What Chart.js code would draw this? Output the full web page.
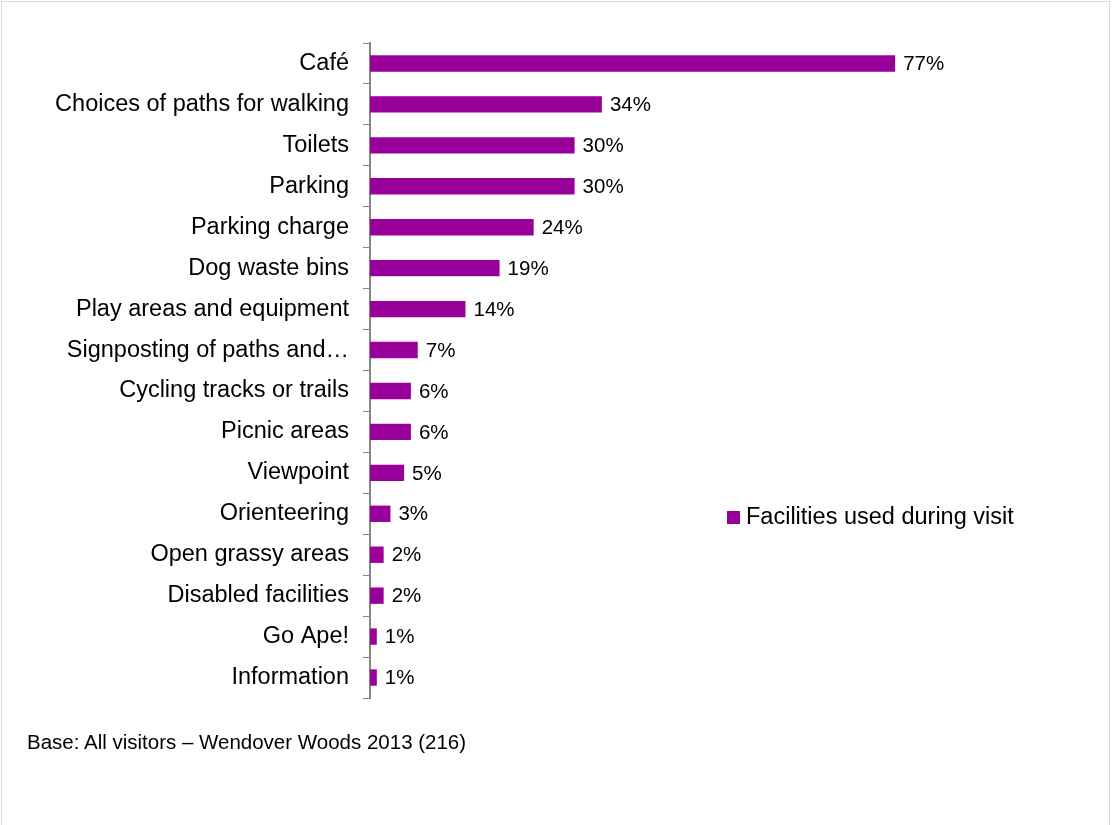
<!DOCTYPE html>
<html lang="en">
<head>
    <meta charset="UTF-8">
    <title>Facilities used during visit</title>
    <script src="https://cdn.jsdelivr.net/npm/chart.js"></script>
</head>
<body style="margin:0;background:#fff;font-family:'Liberation Sans',Arial,sans-serif;">
    <div style="position:relative;width:1113px;height:825px;overflow:hidden;">
        <div style="position:absolute;left:1px;top:1px;width:1107px;height:840px;border:1px solid #d9d9d9;"></div>
        <canvas id="facilitiesChart" width="1113" height="825" style="position:absolute;left:0;top:0;"></canvas>
        <div style="position:absolute;left:727px;top:511px;width:13px;height:13px;background:#990099;"></div>
        <div style="position:absolute;left:746px;top:505px;font-size:23.5px;line-height:1;color:#000;white-space:nowrap;">Facilities used during visit</div>
        <div style="position:absolute;left:27px;top:732px;font-size:20.5px;line-height:1;color:#000;white-space:nowrap;">Base: All visitors – Wendover Woods 2013 (216)</div>
    </div>
    <script>
        // Facilities used, % of visitors
        const facilities = [
            'Café',
            'Choices of paths for walking',
            'Toilets',
            'Parking',
            'Parking charge',
            'Dog waste bins',
            'Play areas and equipment',
            'Signposting of paths and…',
            'Cycling tracks or trails',
            'Picnic areas',
            'Viewpoint',
            'Orienteering',
            'Open grassy areas',
            'Disabled facilities',
            'Go Ape!',
            'Information'
        ];
        const usedPct = [77, 34, 30, 30, 24, 19, 14, 7, 6, 6, 5, 3, 2, 2, 1, 1];

        // Writes "NN%" just past the end of each bar
        const valueLabels = {
            id: 'valueLabels',
            afterDatasetsDraw(chart) {
                const ctx = chart.ctx;
                const meta = chart.getDatasetMeta(0);
                ctx.save();
                ctx.font = "20.5px 'Liberation Sans', Arial, sans-serif";
                ctx.fillStyle = '#000';
                ctx.textAlign = 'left';
                ctx.textBaseline = 'middle';
                meta.data.forEach((bar, i) => {
                    ctx.fillText(usedPct[i] + '%', bar.x + 8, bar.y + 1);
                });
                ctx.restore();
            }
        };

        new Chart(document.getElementById('facilitiesChart'), {
            type: 'bar',
            data: {
                labels: facilities,
                datasets: [{
                    label: 'Facilities used during visit',
                    data: usedPct,
                    backgroundColor: '#990099',
                    borderWidth: 0,
                    barPercentage: 0.4,
                    categoryPercentage: 1
                }]
            },
            options: {
                indexAxis: 'y',
                responsive: false,
                animation: false,
                layout: { padding: { top: 43, right: 61, bottom: 127, left: 0 } },
                plugins: {
                    legend: { display: false },
                    tooltip: { enabled: false }
                },
                scales: {
                    x: {
                        display: false,
                        min: 0,
                        max: 100
                    },
                    y: {
                        afterFit(scale) { scale.width = 370; },
                        border: { display: true, color: '#868686', width: 2 },
                        grid: {
                            display: true,
                            drawOnChartArea: false,
                            drawTicks: true,
                            tickLength: 7,
                            color: '#868686',
                            offset: true
                        },
                        ticks: {
                            autoSkip: false,
                            padding: 14,
                            color: '#000',
                            font: { family: "'Liberation Sans', Arial, sans-serif", size: 23.5 }
                        }
                    }
                }
            },
            plugins: [valueLabels]
        });
    </script>
</body>
</html>
